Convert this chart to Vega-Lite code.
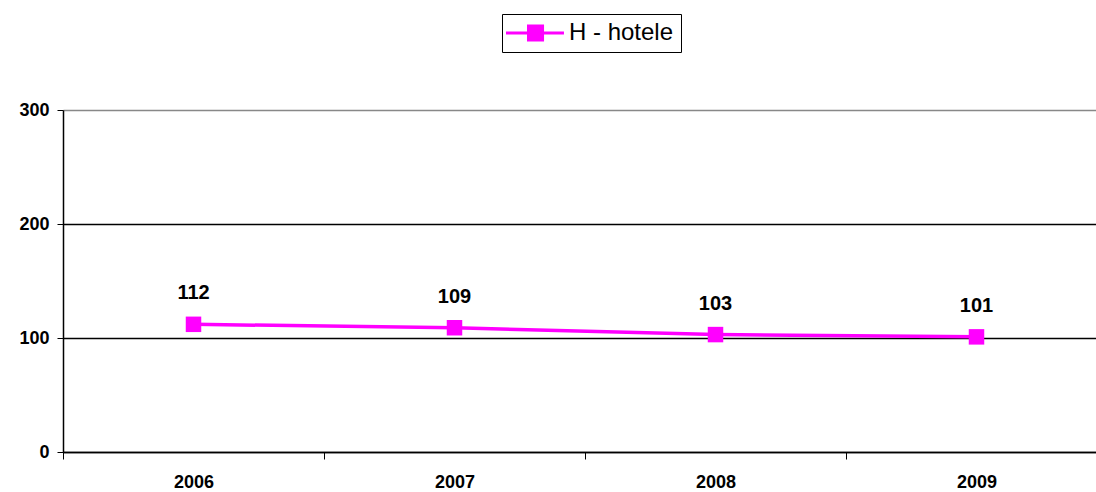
{
  "$schema": "https://vega.github.io/schema/vega-lite/v6.json",
  "width": 1044,
  "height": 342,
  "autosize": {"type": "none"},
  "padding": {"left": 63, "top": 110, "right": 0, "bottom": 40},
  "background": "white",
  "config": {
    "view": {"stroke": null},
    "font": "Liberation Sans",
    "legend": {"strokeColor": "black", "fillColor": "white"}
  },
  "data": {
    "values": [
      {"year": "2006", "value": 112, "series": "H - hotele"},
      {"year": "2007", "value": 109, "series": "H - hotele"},
      {"year": "2008", "value": 103, "series": "H - hotele"},
      {"year": "2009", "value": 101, "series": "H - hotele"}
    ]
  },
  "encoding": {
    "x": {
      "field": "year", "type": "ordinal",
      "scale": {"type": "band", "paddingInner": 0, "paddingOuter": 0},
      "axis": {
        "title": null, "labelAngle": 0, "tickBand": "extent",
        "domainColor": "black", "domainWidth": 1.5,
        "tickColor": "black", "tickSize": 7, "tickWidth": 1,
        "labelFont": "Liberation Sans", "labelFontWeight": "bold", "labelFontSize": 18,
        "labelColor": "black", "labelPadding": 14, "grid": false
      }
    },
    "y": {
      "field": "value", "type": "quantitative",
      "scale": {"domain": [0, 300], "nice": false},
      "axis": {
        "title": null, "values": [0, 100, 200, 300],
        "domainColor": "black", "domainWidth": 1.5,
        "tickColor": "black", "tickSize": 6,
        "gridColor": {"condition": {"test": "datum.value == 300", "value": "#888888"}, "value": "black"},
        "gridWidth": 1.5, "gridOpacity": 1,
        "labelFont": "Liberation Sans", "labelFontWeight": "bold", "labelFontSize": 18,
        "labelColor": "black", "labelPadding": 8
      }
    }
  },
  "layer": [
    {
      "mark": {"type": "line", "strokeWidth": 3.5},
      "encoding": {
        "color": {
          "field": "series", "type": "nominal",
          "scale": {"range": ["#FF00FF"]},
          "legend": {
            "title": null, "orient": "none", "legendX": 439, "legendY": -96,
            "padding": 7,
            "symbolType": "M-1.25,-0.13H3.58V0.13H-1.25Z M0.5,-0.71H1.92V0.71H0.5Z",
            "symbolSize": 576, "symbolStrokeWidth": 0, "symbolFillColor": "#FF00FF",
            "symbolOffset": 0,
            "labelFont": "Liberation Sans", "labelFontSize": 24, "labelColor": "black",
            "labelOffset": 36
          }
        }
      }
    },
    {
      "mark": {"type": "point", "shape": "square", "filled": true, "size": 240, "color": "#FF00FF", "opacity": 1}
    },
    {
      "mark": {"type": "text", "dy": -31, "font": "Liberation Sans", "fontWeight": "bold", "fontSize": 20, "color": "black"},
      "encoding": {"text": {"field": "value", "type": "quantitative"}}
    }
  ]
}
